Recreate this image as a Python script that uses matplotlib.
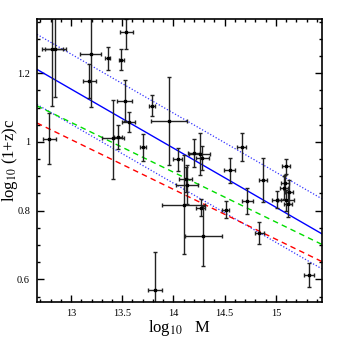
import numpy as np
import matplotlib
matplotlib.use("Agg")
import matplotlib.pyplot as plt
from matplotlib.ticker import MultipleLocator

# ── Data: cluster points (log10 M, log10 (1+z)c) ───────────────
log_m = [12.787, 12.817, 12.846, 13.191, 13.18, 13.356, 13.49, 13.539,
         13.525, 13.562, 13.41, 13.456, 13.791, 13.956, 13.703, 14.042,
         14.199, 14.255, 14.281, 14.549, 14.118, 14.134, 14.10, 14.265,
         14.291, 14.51, 13.817, 14.667, 14.87, 14.723, 14.836, 15.007,
         15.098, 15.091, 15.081, 15.13, 15.098, 15.118, 15.324]
log_c = [1.010, 1.271, 1.271, 1.256, 1.178, 1.243, 1.240, 1.321,
         1.120, 1.058, 1.011, 1.015, 1.106, 1.061, 0.984, 0.949,
         0.968, 0.966, 0.952, 0.917, 0.891, 0.876, 0.817, 0.809,
         0.726, 0.803, 0.570, 0.985, 0.890, 0.828, 0.735, 0.832,
         0.929, 0.882, 0.867, 0.854, 0.830, 0.818, 0.613]
xerr = [0.062, 0.10, 0.10, 0.10, 0.06, 0.025, 0.025, 0.062,
        0.074, 0.065, 0.11, 0.04, 0.025, 0.173, 0.03, 0.045,
        0.057, 0.10, 0.065, 0.054, 0.065, 0.11, 0.21, 0.044,
        0.18, 0.033, 0.069, 0.046, 0.039, 0.052, 0.044, 0.041,
        0.039, 0.04, 0.04, 0.04, 0.08, 0.04, 0.046]
yerr_lo = [0.075, 0.166, 0.139, 0.155, 0.05, 0.033, 0.03, 0.05,
           0.06, 0.03, 0.12, 0.035, 0.03, 0.127, 0.04, 0.034,
           0.042, 0.061, 0.035, 0.037, 0.037, 0.056, 0.144, 0.025,
           0.088, 0.024, 0.11, 0.04, 0.064, 0.039, 0.032, 0.025,
           0.022, 0.023, 0.034, 0.036, 0.03, 0.035, 0.034]
yerr_hi = [0.075, 0.12, 0.12, 0.11, 0.05, 0.033, 0.03, 0.036,
           0.06, 0.03, 0.11, 0.035, 0.03, 0.127, 0.04, 0.034,
           0.042, 0.061, 0.035, 0.037, 0.037, 0.056, 0.144, 0.025,
           0.088, 0.024, 0.11, 0.04, 0.064, 0.039, 0.032, 0.025,
           0.022, 0.023, 0.034, 0.036, 0.03, 0.035, 0.034]

# ── Relations: value at log M = 14 and slope ──────────────────
fit_pivot = 14.0
fit_value = 0.982       # blue solid best fit
fit_slope = -0.172
fit_scatter = 0.102     # blue dotted band
green_value = 0.912
green_slope = -0.145
red_value = 0.862
red_slope = -0.145

XLIM = (12.667, 15.448)
YLIM = (0.534, 1.358)

plt.rcParams["font.family"] = ["Liberation Serif", "DejaVu Serif"]
plt.rcParams["mathtext.fontset"] = "stix"

fig = plt.figure(figsize=(3.39, 3.39), dpi=100)
ax = fig.add_axes([0.109, 0.109, 0.84, 0.835])

xx = np.linspace(XLIM[0], XLIM[1], 50)
best = fit_value + fit_slope * (xx - fit_pivot)
ax.plot(xx, best, color="#0000ff", lw=1.0)
ax.plot(xx, best + fit_scatter, color="#3333ff", lw=0.9, ls=(0, (1, 1.5)))
ax.plot(xx, best - fit_scatter, color="#3333ff", lw=0.9, ls=(0, (1, 1.5)))
ax.plot(xx, green_value + green_slope * (xx - fit_pivot), color="#00dd00",
        lw=1.0, ls=(0, (4, 3)))
ax.plot(xx, red_value + red_slope * (xx - fit_pivot), color="#ff0000",
        lw=1.0, ls=(0, (4, 3)))

ax.errorbar(log_m, log_c, xerr=xerr, yerr=[yerr_lo, yerr_hi], fmt="s",
            ms=2, color="black", ecolor="#222222", elinewidth=1.0,
            capsize=1.5, capthick=1.0)

ax.set_xlim(*XLIM)
ax.set_ylim(*YLIM)
ax.xaxis.set_major_locator(MultipleLocator(0.5))
ax.xaxis.set_minor_locator(MultipleLocator(0.1))
ax.yaxis.set_major_locator(MultipleLocator(0.2))
ax.yaxis.set_minor_locator(MultipleLocator(0.05))
ax.set_xticks([13, 13.5, 14, 14.5, 15])
ax.set_xticklabels(["13", "13.5", "14", "14.5", "15"])
ax.set_yticks([0.6, 0.8, 1.0, 1.2])
ax.set_yticklabels(["0.6", "0.8", "1", "1.2"])
ax.tick_params(which="both", direction="in", top=True, right=True,
               labelsize=7.5, width=1.0, pad=5)
ax.tick_params(which="major", length=5)
ax.tick_params(which="minor", length=2.5)
for sp in ax.spines.values():
    sp.set_linewidth(1.2)

ax.set_xlabel(r"log$_{10}$ $\ $ M", fontsize=12)
ax.set_ylabel(r"log$_{10}$ (1+z)c", fontsize=12)
ax.xaxis.set_label_coords(0.5, -0.055)
ax.yaxis.set_label_coords(-0.058, 0.5)

fig.savefig("out.png", dpi=100)
